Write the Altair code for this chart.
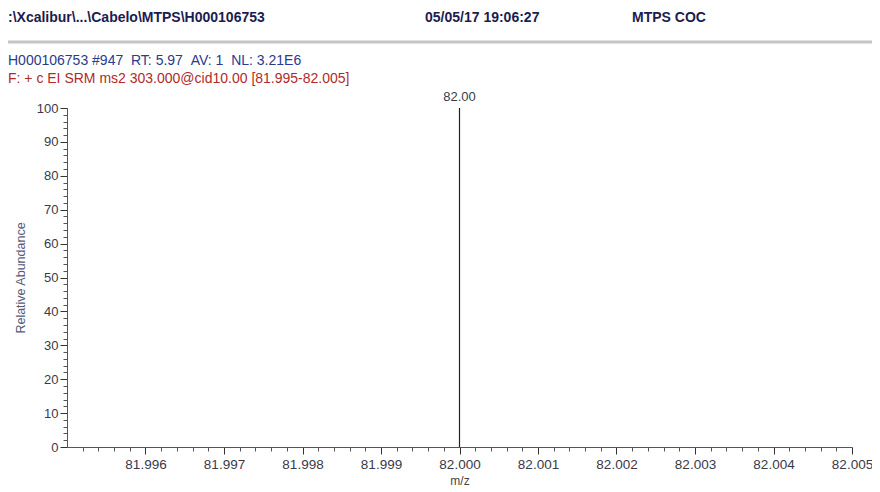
import altair as alt
import pandas as pd
import numpy as np

# Data
mz = [82.000]
intensity = [100]
peak_labels = ["82.00"]

x_major = [81.996, 81.997, 81.998, 81.999, 82.000, 82.001, 82.002, 82.003, 82.004, 82.005]
x_minor = [round(v, 4) for v in np.arange(81.9952, 82.0050, 0.0002)]
y_major = [0, 10, 20, 30, 40, 50, 60, 70, 80, 90, 100]
y_minor = list(range(0, 101, 2))

NB = "\u00a0"
header_path = ":\\Xcalibur\\...\\Cabelo\\MTPS\\H000106753"
header_date = "05/05/17 19:06:27"
header_name = "MTPS COC"
scan_info = f"H000106753 #947{NB}{NB}RT: 5.97{NB}{NB}AV: 1{NB}{NB}NL: 3.21E6"
filter_info = "F: + c EI SRM ms2 303.000@cid10.00 [81.995-82.005]"

df = pd.DataFrame({"mz": mz, "ab": intensity, "lab": peak_labels})

FONT = "Liberation Sans"
xs = alt.Scale(domain=[81.995, 82.005], nice=False, zero=False)
ys = alt.Scale(domain=[0, 100], nice=False)

minor = alt.Chart(df).mark_point(opacity=0).encode(
    x=alt.X("mz:Q", scale=xs, axis=alt.Axis(values=x_minor, labels=False, title=None, domain=False,
                                             tickSize=4, tickColor="#555", orient="bottom", grid=False)),
    y=alt.Y("ab:Q", scale=ys, axis=alt.Axis(values=y_minor, labels=False, title=None, domain=False,
                                             tickSize=4, tickColor="#555", orient="left", grid=False)),
)

peak = alt.Chart(df).mark_rule(color="#222", strokeWidth=1.2).encode(
    x=alt.X("mz:Q", scale=xs, axis=alt.Axis(values=x_major, format=".3f", title="m/z", tickSize=7,
                                             tickColor="#333", domainColor="#555", labelColor="#3a3a48",
                                             labelFontSize=13.5, labelFont=FONT, labelPadding=3,
                                             titleFont=FONT, titleFontSize=12, titleFontWeight="normal",
                                             titleColor="#444", titlePadding=5, orient="bottom",
                                             labelFlush=False, grid=False)),
    y=alt.Y("ab:Q", scale=ys, axis=alt.Axis(values=y_major, title="Relative Abundance", tickSize=7,
                                             tickColor="#333", domainColor="#555", labelColor="#3a3a48",
                                             labelFontSize=13, labelFont=FONT, labelPadding=2,
                                             titleFont=FONT, titleFontSize=12.5, titleFontWeight="normal",
                                             titleColor="#555a77", titlePadding=9, orient="left",
                                             grid=False)),
    y2=alt.datum(0),
)

peak_text = alt.Chart(df).mark_text(dy=-11, font=FONT, fontSize=13, color="#3a3a48").encode(
    x=alt.X("mz:Q", scale=xs, axis=None), y=alt.Y("ab:Q", scale=ys, axis=None), text="lab:N"
)

def hdr(txt, x, y, color="#000", weight="normal", size=12):
    return alt.Chart(pd.DataFrame({"t": [txt]})).mark_text(
        align="left", baseline="middle", font=FONT, fontSize=size, fontWeight=weight, color=color
    ).encode(x=alt.value(x), y=alt.value(y), text="t:N")

line = alt.Chart(df).mark_rule(color="#c4c4c4", strokeWidth=3).encode(
    x=alt.value(-67), x2=alt.value(813), y=alt.value(-66)
)

chart = alt.layer(
    minor, peak, peak_text, line,
    hdr(header_path, -59, -90, "#1c1c50", "bold", 14),
    hdr(header_date, 358, -90, "#1c1c50", "bold", 14),
    hdr(header_name, 565, -90, "#1c1c50", "bold", 14),
    hdr(scan_info, -59, -47, "#2b3a8c", "normal", 14),
    hdr(filter_info, -59, -29, "#b02a2a", "normal", 14),
).resolve_axis(x="independent", y="independent").properties(
    width=785, height=339,
    background="white",
    autosize=alt.AutoSizeParams(type="none"),
    padding={"left": 59, "top": 100, "right": 20, "bottom": 44},
).configure_view(stroke=None, strokeWidth=0).configure_axis(grid=False)

chart.save("out.html", embed_options={"renderer": "svg", "actions": False})
